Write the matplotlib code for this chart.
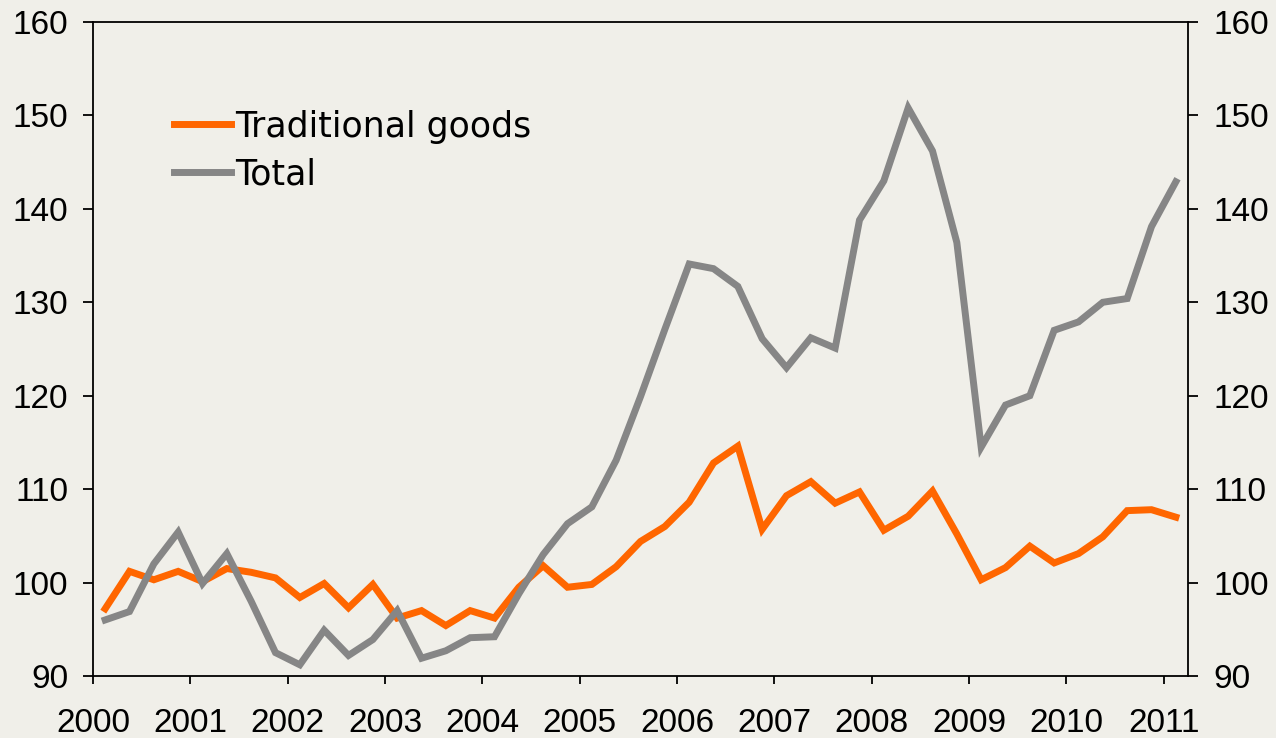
import matplotlib.pyplot as plt

years = ['2000', '2001', '2002', '2003', '2004', '2005', '2006',
         '2007', '2008', '2009', '2010', '2011']

# quarterly index, 2000Q1 - 2011Q1
traditional = [97.2, 101.2, 100.3, 101.2, 100.1, 101.5, 101.1, 100.5,
               98.4, 99.9, 97.3, 99.8, 96.2, 97.0, 95.4, 97.0,
               96.2, 99.5, 101.8, 99.5, 99.8, 101.7, 104.4, 106.0,
               108.6, 112.8, 114.6, 105.7, 109.3, 110.8, 108.5, 109.7,
               105.6, 107.1, 109.8, 105.2, 100.3, 101.6, 103.9, 102.1,
               103.1, 104.9, 107.7, 107.8, 107.0]
total = [96.0, 96.9, 102.0, 105.4, 99.9, 103.1, 98.0, 92.5,
         91.2, 94.9, 92.2, 93.9, 97.0, 91.9, 92.7, 94.1,
         94.2, 98.8, 103.0, 106.3, 108.1, 113.1, 119.9, 127.1,
         134.1, 133.6, 131.7, 126.1, 123.0, 126.2, 125.1, 138.8,
         143.0, 150.8, 146.2, 136.4, 114.5, 119.0, 120.0, 127.0,
         127.9, 130.0, 130.4, 138.1, 142.9]

bg = '#f0efe9'
fig = plt.figure(figsize=(12.76, 7.38), dpi=100, facecolor=bg)
ax = fig.add_axes([93/1276, 1-676/738, 1095/1276, 654/738], facecolor=bg)

x = [i + 0.5 for i in range(len(total))]
ax.plot(x, traditional, color='#ff6600', lw=5, label='Traditional goods',
        solid_joinstyle='miter')
ax.plot(x, total, color='#868686', lw=5, label='Total', solid_joinstyle='miter')

ax.set_xlim(0, len(total))
ax.set_ylim(90, 160)
ax.set_xticks(range(0, 45, 4))
ax.set_xticklabels(years)
ax.set_yticks(range(90, 161, 10))

for s in ax.spines.values():
    s.set_linewidth(1.3)
    s.set_color('black')

ax.tick_params(axis='x', direction='out', length=6, width=1.3, pad=17,
               labelsize=24)
ax.tick_params(axis='y', direction='out', length=7, width=1.3, pad=11,
               labelsize=24, right=True, labelright=True)
for lab in ax.get_xticklabels():
    lab.set_fontfamily('Liberation Sans')
for t in ax.yaxis.get_major_ticks():
    t.label1.set_fontfamily('Liberation Sans')
    t.label2.set_fontfamily('Liberation Sans')

leg = ax.legend(loc='upper left', bbox_to_anchor=(0.074, 0.866), frameon=False,
                prop={'family': 'DejaVu Sans', 'size': 25},
                handlelength=1.65, handletextpad=0.1, labelspacing=0.4,
                borderaxespad=0, borderpad=0)

fig.savefig('out.png', dpi=100, facecolor=bg)
